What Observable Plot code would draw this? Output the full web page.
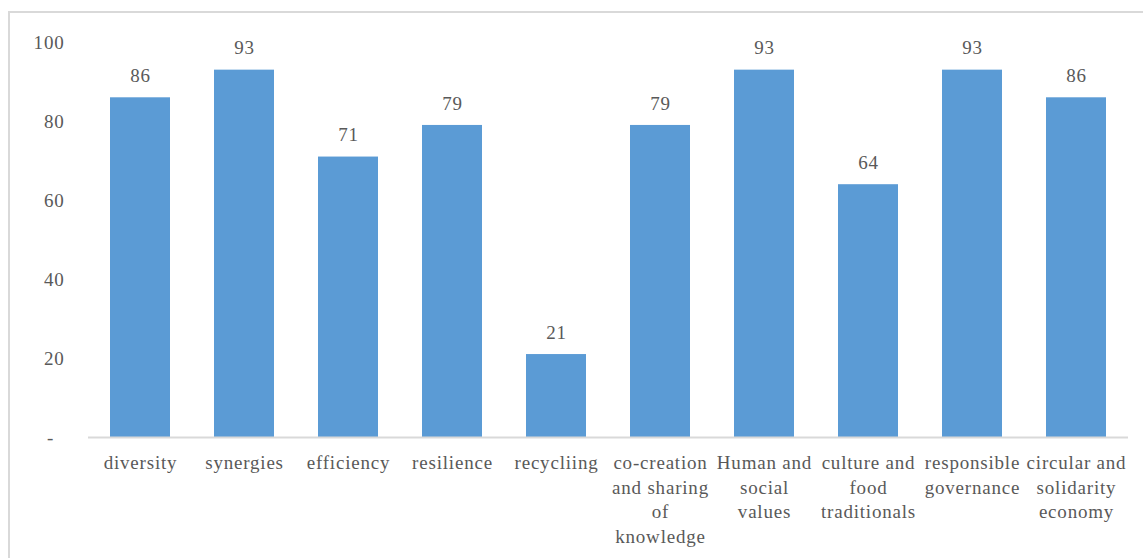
<!DOCTYPE html>
<html>
<head>
<meta charset="utf-8">
<script src="https://cdn.jsdelivr.net/npm/d3@7"></script>
<script src="https://cdn.jsdelivr.net/npm/@observablehq/plot@0.6"></script>
<style>
  html, body { margin: 0; padding: 0; background: #fff; overflow: hidden; }
  #wrap { position: relative; width: 1143px; height: 558px; }
  #frame {
    position: absolute; left: 8px; top: 11px; width: 1200px; height: 600px;
    border: 2px solid #d9d9d9; box-sizing: border-box; pointer-events: none;
  }
  #wrap svg text { letter-spacing: 0.8px; }
</style>
</head>
<body>
<div id="wrap"><div id="frame"></div></div>
<script>
// Agroecology elements and their scores
const categories = [
  "diversity", "synergies", "efficiency", "resilience", "recycliing",
  "co-creation and sharing of knowledge", "Human and social values",
  "culture and food traditionals", "responsible governance",
  "circular and solidarity economy"
];
const wrappedLabels = [
  "diversity", "synergies", "efficiency", "resilience", "recycliing",
  "co-creation\nand sharing\nof\nknowledge", "Human and\nsocial\nvalues",
  "culture and\nfood\ntraditionals", "responsible\ngovernance",
  "circular and\nsolidarity\neconomy"
];
const values = [86, 93, 71, 79, 21, 79, 93, 64, 93, 86];
const yTicks = [0, 20, 40, 60, 80, 100];

const data = categories.map((c, i) => ({category: c, value: values[i]}));
const labelOf = new Map(categories.map((c, i) => [c, wrappedLabels[i]]));

const font = "'Liberation Serif', 'Times New Roman', serif";
const textColor = "#595959";

const chart = Plot.plot({
  width: 1143,
  height: 558,
  marginTop: 42,
  marginBottom: 121,
  marginLeft: 88,
  marginRight: 15,
  style: {fontFamily: font, fontSize: "19px", color: textColor, background: "transparent"},
  x: {domain: categories, paddingInner: 0.42, paddingOuter: 0.21},
  y: {domain: [0, 100]},
  marks: [
    Plot.axisY(yTicks, {
      tickSize: 0,
      tickPadding: 24,
      fontSize: 19,
      fill: textColor,
      // accounting-style zero: a dash padded on the right
      tickFormat: d => d === 0 ? "-\u2007" : String(d),
      label: null
    }),
    Plot.axisX({
      tickSize: 0,
      tickPadding: 14,
      fontSize: 19,
      lineHeight: 1.3,
      fill: textColor,
      tickFormat: d => labelOf.get(d),
      label: null
    }),
    Plot.barY(data, {x: "category", y: "value", fill: "#5b9bd5"}),
    Plot.ruleY([0], {stroke: "#d9d9d9", strokeWidth: 2}),
    Plot.text(data, {
      x: "category", y: "value", text: d => String(d.value),
      dy: -22, fontSize: 19, fill: textColor
    })
  ]
});
document.getElementById("wrap").prepend(chart);
chart.style.position = "absolute";
chart.style.left = "0";
chart.style.top = "0";
</script>
</body>
</html>
